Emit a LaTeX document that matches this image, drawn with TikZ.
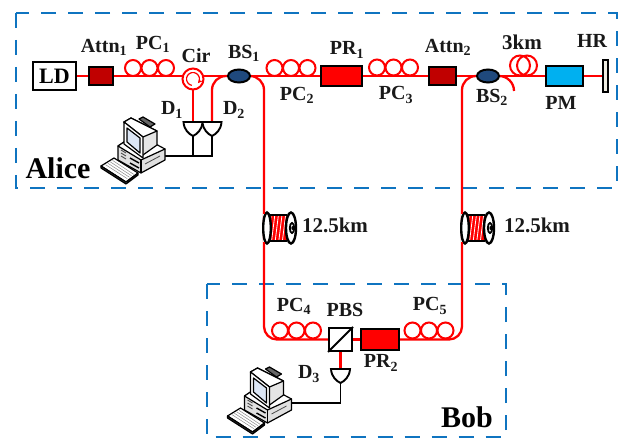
\documentclass[tikz,border=0pt]{standalone}
\usepackage{fontspec}
\usetikzlibrary{calc,shapes.geometric}
\setmainfont{Liberation Serif}
\definecolor{regionblue}{HTML}{0F74C0}
\definecolor{bsblue}{HTML}{1F497D}
\definecolor{attnred}{HTML}{C00000}
\definecolor{pmblue}{HTML}{00B0F0}
\definecolor{screenblue}{HTML}{DCE6F5}
\definecolor{hrfill}{HTML}{EEECE1}
\begin{document}
\begin{tikzpicture}[x=1pt,y=-1pt,
  fiber/.style={draw=red,line width=2.3pt},
  wire/.style={draw=black,line width=1.9pt},
  region/.style={draw=regionblue,line width=2pt,dash pattern=on 15pt off 12pt},
  device/.style={draw=black,line width=2pt,rectangle,inner sep=0pt},
  coupler/.style={draw=black,line width=2pt,ellipse,fill=bsblue,minimum width=22pt,minimum height=13pt,inner sep=0pt},
  loopc/.style={draw=red,line width=2pt},
  lab/.style={font=\fontsize{20}{20}\selectfont\bfseries,inner sep=0pt,text=black!90},
  kmlab/.style={font=\fontsize{21}{21}\selectfont\bfseries,inner sep=0pt,text=black!90},
  biglab/.style={font=\fontsize{30}{30}\selectfont\bfseries,inner sep=0pt},
  pcpic/.pic={
    \draw[loopc] (-16.5,-8) circle (8pt) (0,-8) circle (8pt) (16.5,-8) circle (8pt);
  },
  detector/.pic={
    \draw[line width=1.9pt,fill=white] (-9.5,0) -- (9.5,0) .. controls (9,8) and (4,12) .. (0,14) .. controls (-4,12) and (-9,8) .. (-9.5,0) -- cycle;
  },
  spoolpic/.pic={
    \fill[white] (-5,-15) rectangle (24,15);
    \fill[red] (0,-13) rectangle (19,13);
    \foreach \k in {0,3.6,...,16}{\draw[white,line width=.8pt] (\k,13) -- (\k+3.2,-13);}
    \draw[black,line width=1.4pt] (0,-13) -- (19,-13) (0,13) -- (19,13);
    \draw[line width=2.4pt,fill=white] (-1,0) ellipse (3.8pt and 15.5pt);
    \draw[line width=2.4pt,fill=white] (23,0) ellipse (5pt and 15.5pt);
    \draw[line width=1.8pt] (24,0) ellipse (2.2pt and 5pt);
    \fill (24.3,0) ellipse (.9pt and 2pt);
  },
  computer/.pic={
    \begin{scope}[line width=1.2pt,line join=round]
    % keyboard
    \draw[fill=white] (101,166) -- (114,158) -- (138,173) -- (126,182) -- cycle;
    \draw[fill=black!55] (101,166) -- (126,182) -- (138,173) -- (138,175) -- (126,184) -- (101,168) -- cycle;
    \foreach \t in {.2,.4,.6,.8}{\draw[black!45,line width=.5pt] ($(103,166)!\t!(115,159)$) -- ($(125,180)!\t!(136,173)$);}
    % base
    \draw[fill=black!12] (118,146) -- (124,142) -- (165,149) -- (165,160) -- (141,173) -- (118,160) -- cycle;
    \draw[fill=white] (118,146) -- (141,160) -- (165,149) -- (150,141) -- (124,142) -- cycle;
    \draw (141,160) -- (141,173);
    \foreach \t in {0,3,6}{\draw[black!70,line width=.9pt] (121,150+\t) -- (126,153+\t);}
    \draw[line width=1.4pt] (130,158) -- (139,163) (130,163) -- (139,168);
    \draw[black!70,line width=.8pt] (145,164) -- (160,156);
    % monitor
    \draw[fill=black!10] (124,122) -- (131,118) -- (157,131) -- (157,145) -- (143,155) -- cycle;
    \draw[fill=white] (124,122) -- (131,118) -- (157,131) -- (143,137) -- cycle;
    \draw[fill=black!60] (139,119) -- (143,117) -- (155,124) -- (150,127) -- cycle;
    \draw[fill=white] (124,122) -- (143,137) -- (143,158) -- (124,144) -- cycle;
    \draw[fill=screenblue] (127,128) -- (140,138) -- (140,153) -- (127,142) -- cycle;
    \end{scope}
  }]
\useasboundingbox (0,0) rectangle (618,438);

% region frames
\node[draw=none,inner sep=0pt] (aliceNW) at (16,13) {};
\node[draw=none,inner sep=0pt] (aliceSE) at (617,188) {};
\node[draw=none,inner sep=0pt] (bobNW) at (206.5,284) {};
\node[draw=none,inner sep=0pt] (bobSE) at (505.5,437) {};
\draw[region] (aliceNW) rectangle (aliceSE);
\draw[region] (bobNW) rectangle (bobSE);

% anchors of components (fibers are drawn first, the bodies on top)
\coordinate (ldc) at (54.5,76);
\coordinate (attnAc) at (101,76);
\coordinate (circ) at (193,79);
\coordinate (bsAc) at (239,76);
\coordinate (prAc) at (341.5,76);
\coordinate (attnBc) at (442.5,76);
\coordinate (bsBc) at (488,76);
\coordinate (pmc) at (564.5,76);
\coordinate (hrc) at (605.5,76);
\coordinate (spoolA) at (264,228);
\coordinate (spoolB) at (462,228);
\coordinate (pbsc) at (340.5,339.5);
\coordinate (prBc) at (380,339.5);
\coordinate (detA) at (193,122);
\coordinate (detB) at (212,122);
\coordinate (detC) at (340.5,369);
\coordinate (tapB) at (514,91);
\coordinate (joint) at (193,156);
\coordinate (pcA) at (212,156);
\coordinate (pcB) at (165,156);
\coordinate (pcC) at (292,403);
\coordinate (detCout) at (340.5,403);

% fibers
\draw[fiber] (ldc) -- (attnAc) -- (bsAc) -- (prAc) -- (attnBc) -- (bsBc) -- (pmc) -- (hrc);
\draw[fiber] (circ) -- (detA);
\draw[fiber,rounded corners=14pt] (bsAc) -| (detB);
\draw[fiber,rounded corners=14pt] (bsAc) -| (spoolA);
\draw[fiber,rounded corners=13pt] (spoolA) |- (pbsc);
\draw[fiber,rounded corners=14pt] (bsBc) -| (spoolB);
\draw[fiber,rounded corners=13pt] (spoolB) |- (prBc);
\draw[fiber,rounded corners=15pt] (bsBc) -| (tapB);
\draw[fiber] (pbsc) -- (prBc);
\draw[fiber] (pbsc) -- (detC);

% electrical wires
\draw[wire] (detA) -- (joint);
\draw[wire] (detB) -- (pcA) -- (pcB);
\draw[wire] (detC) -- (detCout) -- (pcC);

% polarization controllers
\pic at (149.5,76) {pcpic};
\pic at (291,76) {pcpic};
\pic at (393.5,75.5) {pcpic};
\pic at (296.5,338.5) {pcpic};
\pic at (429,338.5) {pcpic};

% 3 km coil
\draw[loopc] (520,65.5) circle (10pt) (527,65.5) circle (10pt);

% circulator
\node[circle,draw=red,line width=2pt,fill=white,minimum size=21pt,inner sep=0pt] (cir) at (circ) {};
\draw[red,line width=1.2pt,-stealth] (cir.center) ++(-100:6.5pt) arc (-100:-400:6.5pt);

% boxes
\node[device,fill=white,minimum width=43pt,minimum height=28pt] (ld) at (ldc) {\fontsize{22}{22}\selectfont\bfseries LD};
\node[device,fill=attnred,minimum width=24pt,minimum height=18pt] (attnA) at (attnAc) {};
\node[coupler] (bsA) at (bsAc) {};
\node[device,fill=red,minimum width=41pt,minimum height=20pt] (prA) at (prAc) {};
\node[device,fill=attnred,minimum width=27pt,minimum height=18pt] (attnB) at (attnBc) {};
\node[coupler] (bsB) at (bsBc) {};
\node[device,fill=pmblue,minimum width=37pt,minimum height=20pt] (pm) at (pmc) {};
\node[device,fill=hrfill,minimum width=5pt,minimum height=32pt] (hr) at (hrc) {};
\node[device,fill=white,minimum width=23pt,minimum height=23pt] (pbs) at (pbsc) {};
\draw[line width=2pt] (pbs.south west) -- (pbs.north east);
\node[device,fill=red,minimum width=38pt,minimum height=21pt] (prB) at (prBc) {};

% spools
\pic at ($(spoolA)+(4,0)$) {spoolpic};
\pic at ($(spoolB)+(4,0)$) {spoolpic};
\draw[fiber,line width=1.6pt] (264,205) -- (264,214) (264,242) -- (264,250);
\draw[fiber,line width=1.6pt] (462,205) -- (462,214) (462,242) -- (462,250);

% detectors
\pic at (detA) {detector};
\pic at (detB) {detector};
\pic at (detC) {detector};

% computers
\pic at (0,0) {computer};
\pic at (126.5,250) {computer};

% labels
\node[lab] (tA) at (104,47) {Attn\textsubscript{1}};
\node[lab] (tB) at (153,44) {PC\textsubscript{1}};
\node[lab] (tC) at (196,56) {Cir};
\node[lab] (tD) at (244,53) {BS\textsubscript{1}};
\node[lab] (tE) at (172,110) {D\textsubscript{1}};
\node[lab] (tF) at (234,110) {D\textsubscript{2}};
\node[lab] (tG) at (297,95) {PC\textsubscript{2}};
\node[lab] (tH) at (347,50) {PR\textsubscript{1}};
\node[lab] (tI) at (396,95) {PC\textsubscript{3}};
\node[lab] (tJ) at (448,47) {Attn\textsubscript{2}};
\node[kmlab] (tK) at (522,42) {3km};
\node[lab] (tL) at (592,41) {HR};
\node[lab] (tM) at (492,97) {BS\textsubscript{2}};
\node[lab] (tN) at (561,103) {PM};
\node[kmlab] (tO) at (335,225) {12.5km};
\node[kmlab] (tP) at (537,225) {12.5km};
\node[lab] (tQ) at (294,306) {PC\textsubscript{4}};
\node[lab] (tR) at (345,310) {PBS};
\node[lab] (tS) at (430,306) {PC\textsubscript{5}};
\node[lab] (tT) at (381,363) {PR\textsubscript{2}};
\node[lab] (tU) at (309,374) {D\textsubscript{3}};
\node[biglab] (tV) at (58,168) {Alice};
\node[biglab] (tW) at (467,417) {Bob};
\end{tikzpicture}
\end{document}
